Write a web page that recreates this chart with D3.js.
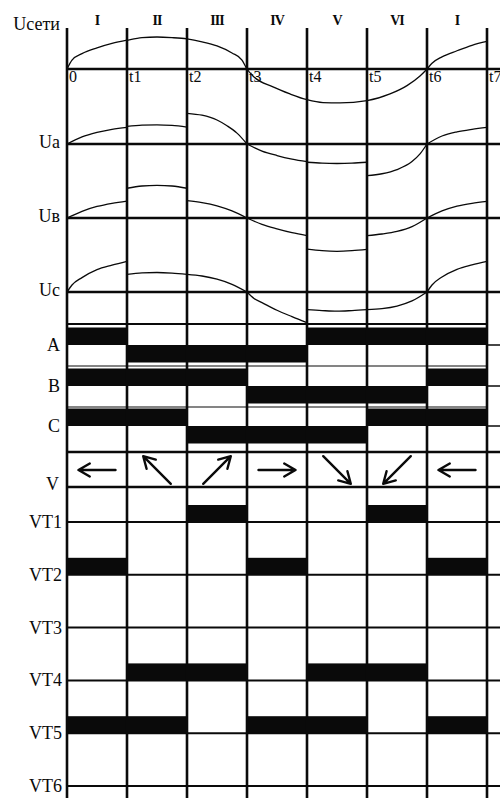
<!DOCTYPE html>
<html><head><meta charset="utf-8">
<script src="https://cdn.jsdelivr.net/npm/d3@7"></script>
<style>body{margin:0;background:#fff}svg{display:block}</style>
</head><body>
<svg id="chart" width="500" height="798"></svg>
<script>
// ---------------- DATA ----------------
const sections = ["I","II","III","IV","V","VI","I"];
const timeLabels = ["0","t1","t2","t3","t4","t5","t6","t7"];
const boundaries = [0,60,120,180,240,300,360,420]; // electrical degrees

// mains voltage Uсети : [degree, value]
const uNet = [[0,0],[5,28],[15,48],[30,66],[45,80],[60,90],[75,98],[90,100],[105,98],[120,94],[135,85],[150,72],[165,50],[175,28],[180,0],
  [186,-22],[206,-56],[223,-78],[240,-96],[256,-105],[273,-106],[300,-99],[323,-78],[340,-52],[353,-22],[360,0],
  [365,18],[375,38],[390,57],[405,74],[420,86]];

// phase voltages, one array of [degree, value] per interval
const uA = [
  [[0,0],[15,22],[30,36],[45,46],[60,52]],
  [[60,55],[75,59],[90,60],[105,58],[120,53]],
  [[120,96],[135,90],[150,75],[160,57],[170,34],[180,0]],
  [[180,0],[195,-22],[210,-36],[225,-47],[240,-55]],
  [[240,-57],[255,-60],[270,-61],[285,-60],[300,-57]],
  [[300,-99],[315,-93],[330,-80],[345,-55],[353,-31],[360,0]],
  [[360,0],[375,25],[390,38],[405,46],[420,52]]
];
const uB = [
  [[0,0],[15,21],[30,36],[45,46],[60,53]],
  [[60,93],[75,100],[90,102],[105,100],[120,93]],
  [[120,54],[135,48],[150,38],[165,22],[180,0]],
  [[180,0],[195,-20],[210,-34],[225,-46],[240,-55]],
  [[240,-97],[255,-102],[270,-104],[285,-102],[300,-98]],
  [[300,-55],[315,-50],[330,-42],[345,-27],[360,0]],
  [[360,0],[375,22],[390,37],[405,46],[420,52]]
];
const uC = [
  [[0,0],[5,22],[15,45],[30,70],[45,84],[60,96]],
  [[60,55],[75,60],[90,61],[105,59],[120,55]],
  [[120,55],[135,50],[150,40],[165,24],[180,0]],
  [[180,0],[187,-20],[195,-33],[210,-57],[225,-77],[240,-96]],
  [[240,-55],[255,-58],[270,-60],[285,-58],[300,-55]],
  [[300,-55],[315,-52],[330,-44],[345,-28],[360,0]],
  [[360,0],[365,22],[375,47],[390,71],[405,85],[420,96]]
];

// switching states per interval (1 = upper, 0 = lower)
const switchA = [1,0,0,0,1,1,1];
const switchB = [1,1,1,0,0,0,1];
const switchC = [1,1,0,0,0,1,1];

// voltage vector direction per interval (degrees, counter-clockwise from +x)
const vectorAngles = [180,135,45,0,-45,-135,180];

// transistor conduction per interval
const vtNames = ["VT1","VT2","VT3","VT4","VT5","VT6"];
const vt1 = [0,0,1,0,0,1,0];
const vt2 = [1,0,0,1,0,0,1];
const vt3 = [0,0,0,0,0,0,0];
const vt4 = [0,1,1,0,1,1,0];
const vt5 = [1,1,0,1,1,0,1];
const vt6 = [0,0,0,0,0,0,0];

// ---------------- DRAWING ----------------
const svg = d3.select("#chart");
const FONT = "'Liberation Serif','Times New Roman',serif";
const INK = "#0a0a0a";
const x = d3.scaleLinear().domain([0,420]).range([67,487]);
const xRight = 500, yTop = 28, yBottom = 798;

const gCurves = svg.append("g");
const gBars = svg.append("g");
const gGrid = svg.append("g");
const gText = svg.append("g").attr("font-family", FONT).attr("fill", INK);

function hline(y, x1, x2, w){
  gGrid.append("line").attr("x1",x1).attr("x2",x2).attr("y1",y).attr("y2",y)
    .attr("stroke",INK).attr("stroke-width",w);
}

// --- voltage rows
const voltRows = [
  {label:"Uсети", axis:69, series:[uNet]},
  {label:"Ua", axis:144, series:uA},
  {label:"Uв", axis:218, series:uB},
  {label:"Uc", axis:292, series:uC}
];
voltRows.forEach(r=>{
  const y = d3.scaleLinear().domain([-100,100]).range([r.axis+32, r.axis-32]);
  const line = d3.line().x(d=>x(d[0])).y(d=>y(d[1])).curve(d3.curveMonotoneX);
  r.series.forEach(s=>{
    gCurves.append("path").attr("d",line(s)).attr("fill","none")
      .attr("stroke",INK).attr("stroke-width",1.3);
  });
  hline(r.axis, x(0), xRight, 2.5);
  gText.append("text").attr("x",60).attr("y",r.axis + (r.label==="Uсети" ? -39 : 3.5))
    .attr("text-anchor","end").attr("font-size",18).text(r.label);
});

// time labels on mains axis
gText.selectAll("text.t").data(timeLabels).join("text").attr("class","t")
  .attr("x",(d,i)=>x(boundaries[i])+2).attr("y",82).attr("font-size",16).text(d=>d);

// roman numerals
gText.selectAll("text.sec").data(sections).join("text").attr("class","sec")
  .attr("x",(d,i)=>x(boundaries[i]+30)).attr("y",25).attr("text-anchor","middle")
  .attr("font-size",14).attr("font-weight","bold").attr("letter-spacing",-1).text(d=>d);

// --- switching rows A, B, C
const switchRows = [
  {label:"A", mid:345, rowTop:324, states:switchA},
  {label:"B", mid:386, rowTop:366, states:switchB},
  {label:"C", mid:426, rowTop:407, states:switchC}
];
const barH = 17.5;
switchRows.forEach(r=>{
  hline(r.rowTop, x(0), x(420), r.label==="A" ? 2 : 1.2);
  hline(r.mid, x(420), xRight, 1.5);
  gBars.selectAll(null).data(r.states).join("rect")
    .attr("x",(d,i)=>x(boundaries[i])).attr("width",(d,i)=>x(boundaries[i+1])-x(boundaries[i]))
    .attr("y",d=> d ? r.mid-barH : r.mid).attr("height",barH).attr("fill",INK);
  gText.append("text").attr("x",60).attr("y",r.mid+5.5).attr("text-anchor","end")
    .attr("font-size",18).text(r.label);
});

// --- vector row V
hline(452, x(0), xRight, 2.5);
hline(487, x(0), xRight, 2.5);
gText.append("text").attr("x",59).attr("y",490).attr("text-anchor","end").attr("font-size",18).text("V");
const arrowY = 470;
vectorAngles.forEach((a,i)=>{
  const rad = a*Math.PI/180;
  const L = (a % 90 === 0) ? 37 : 39;
  const cx = x(boundaries[i]+30), ux = Math.cos(rad), uy = -Math.sin(rad);
  const x1 = cx - ux*L/2, y1 = arrowY - uy*L/2, x2 = cx + ux*L/2, y2 = arrowY + uy*L/2;
  const h = 13, spread = 30*Math.PI/180, back = Math.atan2(-uy,-ux);
  const p = d3.path();
  p.moveTo(x1,y1); p.lineTo(x2,y2);
  p.moveTo(x2 + h*Math.cos(back+spread), y2 + h*Math.sin(back+spread));
  p.lineTo(x2,y2);
  p.lineTo(x2 + h*Math.cos(back-spread), y2 + h*Math.sin(back-spread));
  gGrid.append("path").attr("d",p.toString()).attr("fill","none").attr("stroke",INK)
    .attr("stroke-width",2.4).attr("stroke-linecap","round").attr("stroke-linejoin","round");
});

// --- transistor rows
const vtStates = [vt1,vt2,vt3,vt4,vt5,vt6];
const vtY = d3.scaleLinear().domain([0,5]).range([522,786]);
vtStates.forEach((st,k)=>{
  const yl = vtY(k);
  hline(yl, x(0), xRight, 2);
  gBars.selectAll(null).data(st).join("rect")
    .attr("x",(d,i)=>x(boundaries[i])).attr("width",(d,i)=>x(boundaries[i+1])-x(boundaries[i]))
    .attr("y",yl-17).attr("height",d=>d?17:0).attr("fill",INK);
  gText.append("text").attr("x",62).attr("y",yl+6).attr("text-anchor","end")
    .attr("font-size",18).text(vtNames[k]);
});

// --- vertical interval lines
gGrid.selectAll("line.v").data(boundaries).join("line").attr("class","v")
  .attr("x1",d=>x(d)).attr("x2",d=>x(d)).attr("y1",yTop).attr("y2",yBottom)
  .attr("stroke",INK).attr("stroke-width",2.6);
</script>
</body></html>
